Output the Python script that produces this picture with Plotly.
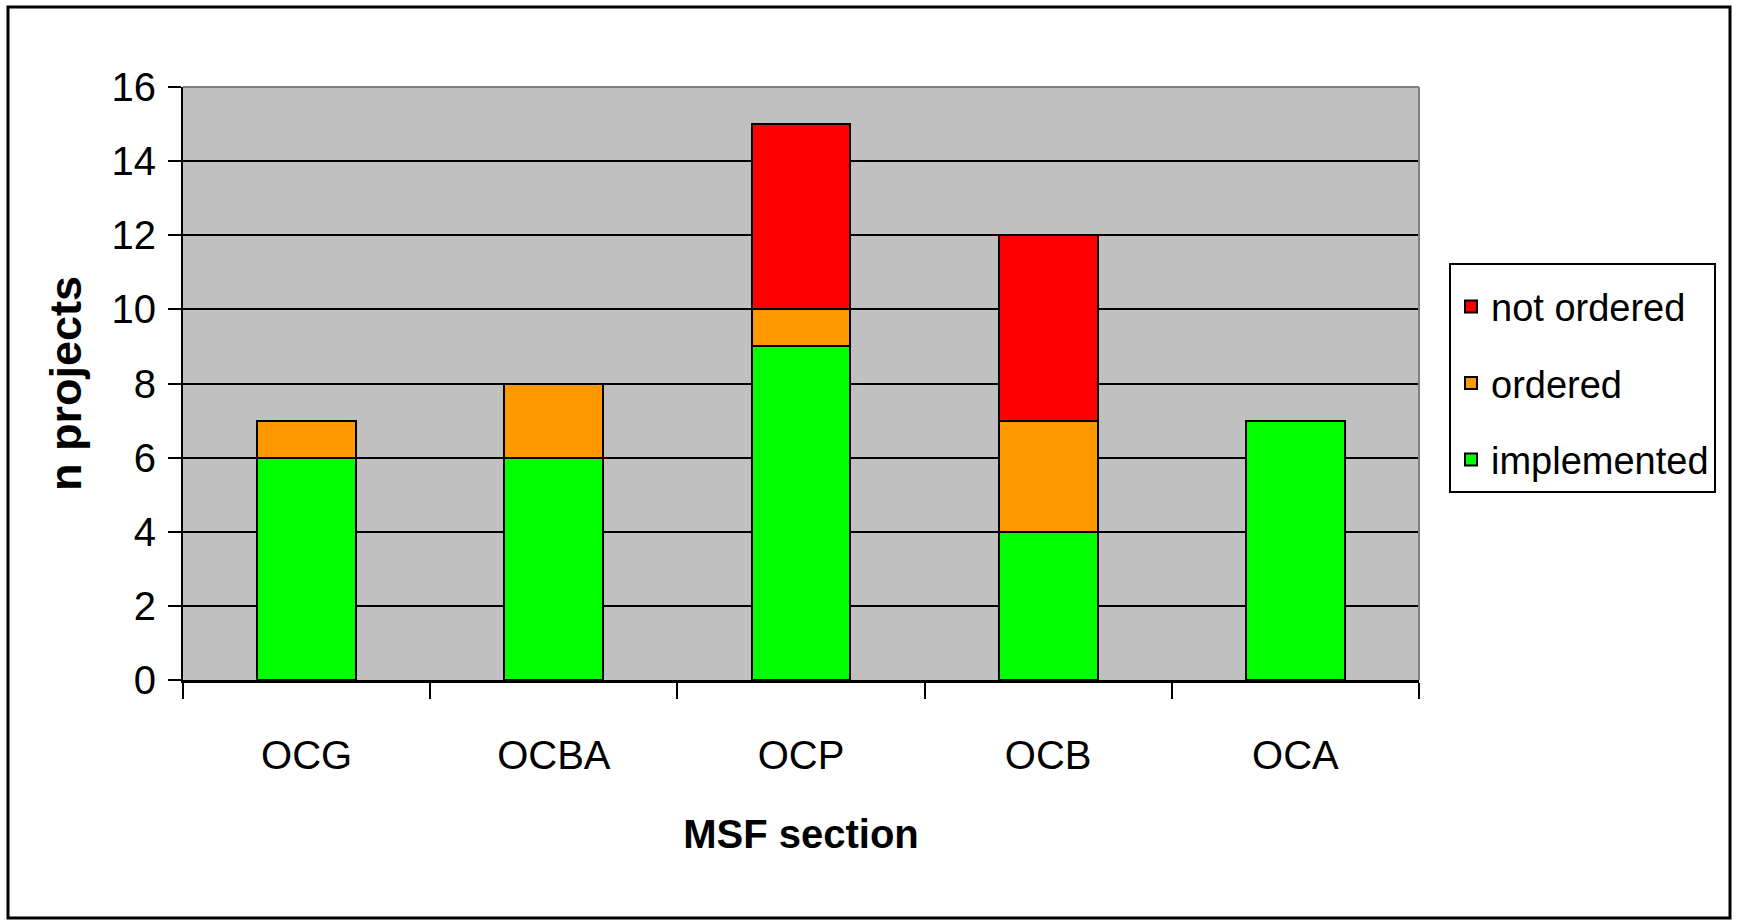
import plotly.graph_objects as go

categories = ["OCG", "OCBA", "OCP", "OCB", "OCA"]
implemented = [6, 6, 9, 4, 7]
ordered = [1, 2, 1, 3, 0]
not_ordered = [0, 0, 5, 5, 0]
y_ticks = [0, 2, 4, 6, 8, 10, 12, 14, 16]

FONT = "Liberation Sans, Arial, sans-serif"

W, H = 1738, 921
L, R, T, B = 183, 1419, 87, 680

fig = go.Figure()
series = [("implemented", implemented, "#00FF00", 3),
          ("ordered", ordered, "#FF9900", 2),
          ("not ordered", not_ordered, "#FF0000", 1)]
for name, vals, col, rank in series:
    fig.add_trace(go.Bar(
        x=categories, y=vals, name=name, legendgroup=name, legendrank=rank,
        marker=dict(color=col, line=dict(color="black", width=2)),
    ))

def px(x):
    return (x - L) / (R - L)

def py(y):
    return (B - y) / (B - T)

fig.update_layout(
    width=W, height=H,
    margin=dict(l=L, r=W - R, t=T, b=H - B, pad=0),
    barmode="stack", bargap=0.6,
    plot_bgcolor="#C0C0C0", paper_bgcolor="white",
    font=dict(family=FONT, size=40, color="black"),
    showlegend=True,
    legend=dict(
        x=px(1449), y=py(263), xanchor="left", yanchor="top",
        bgcolor="white", bordercolor="black", borderwidth=2,
        traceorder="grouped", tracegroupgap=24,
        font=dict(family=FONT, size=38, color="black"),
        title=dict(text="&nbsp;", font=dict(size=8)),
    ),
    xaxis=dict(
        type="category", showgrid=False,
        showline=True, linecolor="black", linewidth=3,
        ticks="outside", tickson="boundaries", ticklen=16, tickwidth=2, tickcolor="black",
        tickfont=dict(family=FONT, size=40),
        ticklabelstandoff=38,
        title=dict(text="<b>MSF section</b>", font=dict(family=FONT, size=40), standoff=44),
    ),
    yaxis=dict(
        range=[0, 16], tickvals=y_ticks,
        showgrid=True, gridcolor="black", gridwidth=2,
        zeroline=False,
        showline=True, linecolor="black", linewidth=2,
        ticks="outside", ticklen=13, tickwidth=2, tickcolor="black",
        tickfont=dict(family=FONT, size=40),
        ticklabelstandoff=4,
        title=dict(text="<b>n projects</b>", font=dict(family=FONT, size=45), standoff=16),
    ),
    shapes=[
        dict(type="line", xref="paper", yref="paper", x0=0, x1=1, y0=1, y1=1,
             line=dict(color="#808080", width=2), layer="above"),
        dict(type="line", xref="paper", yref="paper", x0=1, x1=1, y0=0, y1=1,
             line=dict(color="#808080", width=2), layer="above"),
        dict(type="rect", xref="paper", yref="paper",
             x0=px(8), x1=px(1730), y0=py(918), y1=py(7),
             line=dict(color="black", width=3), fillcolor="rgba(0,0,0,0)", layer="below"),
    ],
)

fig.write_html("out.html", config={"displayModeBar": False},
               post_script="document.body.style.margin='0';document.body.style.overflow='hidden';")
